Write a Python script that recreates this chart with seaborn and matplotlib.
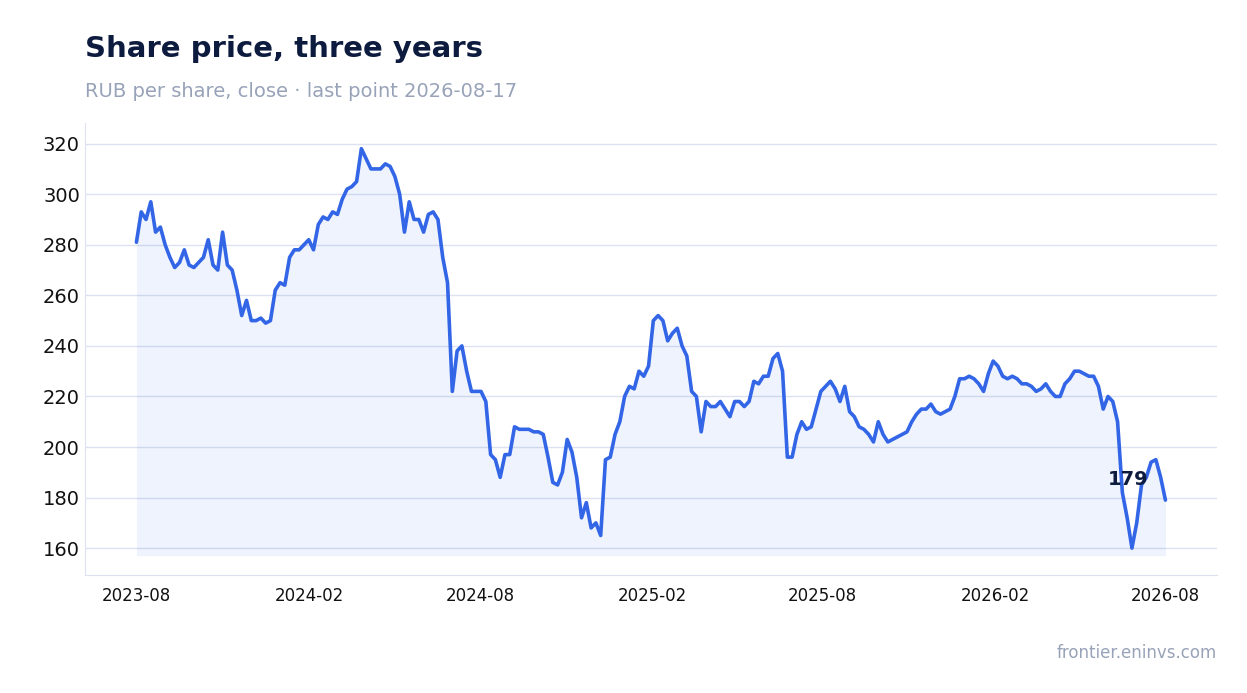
import matplotlib
matplotlib.use("Agg")
import matplotlib.pyplot as plt
import seaborn as sns
import pandas as pd

close = [
    281, 293, 290, 297, 285, 287, 280, 275, 271, 273, 278, 272, 271, 273, 275, 282, 272, 270, 285, 272,
    270, 262, 252, 258, 250, 250, 251, 249, 250, 262, 265, 264, 275, 278, 278, 280, 282, 278, 288, 291,
    290, 293, 292, 298, 302, 303, 305, 318, 314, 310, 310, 310, 312, 311, 307, 300, 285, 297, 290, 290,
    285, 292, 293, 290, 275, 265, 222, 238, 240, 230, 222, 222, 222, 218, 197, 195, 188, 197, 197, 208,
    207, 207, 207, 206, 206, 205, 196, 186, 185, 190, 203, 198, 188, 172, 178, 168, 170, 165, 195, 196,
    205, 210, 220, 224, 223, 230, 228, 232, 250, 252, 250, 242, 245, 247, 240, 236, 222, 220, 206, 218,
    216, 216, 218, 215, 212, 218, 218, 216, 218, 226, 225, 228, 228, 235, 237, 230, 196, 196, 205, 210,
    207, 208, 215, 222, 224, 226, 223, 218, 224, 214, 212, 208, 207, 205, 202, 210, 205, 202, 203, 204,
    205, 206, 210, 213, 215, 215, 217, 214, 213, 214, 215, 220, 227, 227, 228, 227, 225, 222, 229, 234,
    232, 228, 227, 228, 227, 225, 225, 224, 222, 223, 225, 222, 220, 220, 225, 227, 230, 230, 229, 228,
    228, 224, 215, 220, 218, 210, 182, 172, 160, 170, 185, 188, 194, 195, 188, 179,
]
start, end = "2023-08-17", "2026-08-17"
tick_labels = ["2023-08", "2024-02", "2024-08", "2025-02", "2025-08", "2026-02", "2026-08"]

dates = pd.date_range(start, end, periods=len(close))
df = pd.DataFrame({"date": dates, "close": close})

sns.set_style("white")
plt.rcParams["font.family"] = ["DejaVu Sans"]

fig = plt.figure(figsize=(12.47, 6.93), dpi=100)
ax = fig.add_axes([0.068, 0.170, 0.908, 0.653])

line_c = "#3366e6"
sns.lineplot(data=df, x="date", y="close", ax=ax, color=line_c, linewidth=2.6)
ax.fill_between(df["date"], df["close"], min(close) - 3, color=line_c, alpha=0.08, linewidth=0)

ax.set_ylim(149.3, 328.3)
t0 = pd.Timestamp(start)
ax.set_xlim(t0 - pd.Timedelta(days=55), t0 + pd.Timedelta(days=1151))
ticks = [t0 + pd.DateOffset(months=6 * i) for i in range(len(tick_labels))]
ax.set_xticks(ticks)
ax.set_xticklabels(tick_labels, fontsize=12, color="#111111")
ax.set_yticks(range(160, 321, 20))
ax.tick_params(axis="y", labelsize=14, colors="#111111", length=0)
ax.tick_params(axis="x", length=5, color="#c8cde0")
ax.grid(axis="y", color="#dde1f0", linewidth=1)
for s in ["top", "right"]:
    ax.spines[s].set_visible(False)
for s in ["left", "bottom"]:
    ax.spines[s].set_color("#dde1f0")
ax.set_xlabel("")
ax.set_ylabel("")

ax.annotate(str(close[-1]), (dates[-1], close[-1]), xytext=(-12, 8), textcoords="offset points",
            ha="right", va="bottom", fontsize=14, fontweight="bold", color="#0d1b3e")

fig.text(0.068, 0.918, "Share price, three years", fontsize=21, fontweight="bold", color="#0d1b3e")
fig.text(0.068, 0.86, "RUB per share, close · last point 2026-08-17", fontsize=14, color="#98a2b8")
fig.text(0.976, 0.05, "frontier.eninvs.com", fontsize=12, color="#98a2b8", ha="right")

fig.savefig("out.png", dpi=100)
